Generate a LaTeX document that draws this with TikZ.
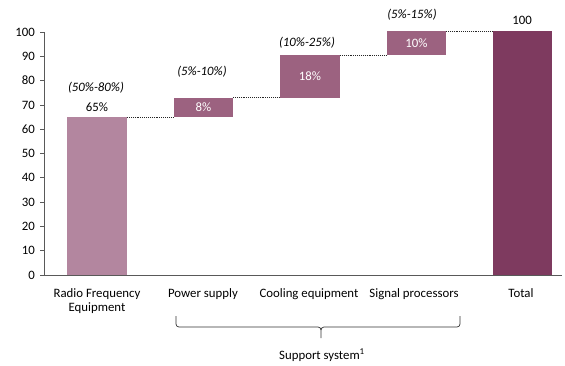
\documentclass[tikz,border=0pt]{standalone}
\usepackage{fontspec}
\setmainfont{Carlito}
\definecolor{rfc}{HTML}{B3869F}
\definecolor{midc}{HTML}{9C6280}
\definecolor{totc}{HTML}{7E3A5F}
\definecolor{axc}{HTML}{595959}
\begin{document}
\begin{tikzpicture}[x=1pt,y=-1pt,
  font=\fontsize{12.8}{14.5}\selectfont,
  link/.style={densely dotted,line width=0.9pt,black!85},
  rng/.style={font=\fontsize{12.8}{14.5}\selectfont\itshape},
  ylab/.style={anchor=east,inner sep=0pt},
  cat/.style={align=center,inner sep=0pt,anchor=north}]
\useasboundingbox (0,0) rectangle (565,365);
% axis mapping: value v -> y = 275 - 2.43 v
% bars
\fill[rfc] (67,275) rectangle (127,117.05);
\fill[midc] (174,117.05) rectangle (233,97.61);
\fill[midc] (280,97.61) rectangle (340,55);
\fill[midc] (387,55) rectangle (446,31);
\fill[totc] (493,275) rectangle (552,31);
\coordinate (rfR) at (127,117.05);
\coordinate (psL) at (174,117.05);
\coordinate (psR) at (233,97.61);
\coordinate (coL) at (280,97.61);
\coordinate (coR) at (340,55);
\coordinate (spL) at (387,55);
\coordinate (spR) at (446,31);
\coordinate (toL) at (493,31);
\draw[link] (rfR) -- (psL);
\draw[link] (psR) -- (coL);
\draw[link] (coR) -- (spL);
\draw[link] (spR) -- (toL);
% bar values
\node (v1) at (97,107) {65\%};
\node[text=white] (v2) at (203.5,107.3) {8\%};
\node[text=white] (v3) at (310,76.5) {18\%};
\node[text=white] (v4) at (416.5,43) {10\%};
\node (v5) at (522,20.5) {100};
% ranges
\node[rng] (r1) at (96,87.5) {(50\%-80\%)};
\node[rng] (r2) at (202,71.5) {(5\%-10\%)};
\node[rng] (r3) at (307,43) {(10\%-25\%)};
\node[rng] (r4) at (412,15) {(5\%-15\%)};
% axes
\draw[axc,line width=0.8pt] (44,32) -- (44,275) -- (562,275);
\foreach \v in {0,10,...,100}{
  \draw[axc,line width=0.8pt] (40,{275-2.43*\v}) -- (44,{275-2.43*\v});
  \node[ylab] at (35,{275-2.43*\v}) {\v};
}
% categories
\node[cat] (c1) at (97,288) {Radio Frequency\\Equipment};
\node[cat] (c2) at (203,288) {Power supply};
\node[cat] (c3) at (309,288) {Cooling equipment};
\node[cat] (c4) at (414,288) {Signal processors};
\node[cat] (c5) at (521,288) {Total};
% brace
\coordinate (bl) at (176,316);
\coordinate (br) at (460,316);
\draw[black!80,line width=0.7pt] (bl) -- ++(0,8) to[out=-90,in=180] ++(3,3) -- (318,327) to[out=0,in=90] (321,330) -- (321,338);
\draw[black!80,line width=0.7pt] (br) -- ++(0,8) to[out=-90,in=0] ++(-3,3) -- (324,327) to[out=180,in=90] (321,330);
\node (sup) at (322,355) {Support system\textsuperscript{1}};
\end{tikzpicture}
\end{document}
